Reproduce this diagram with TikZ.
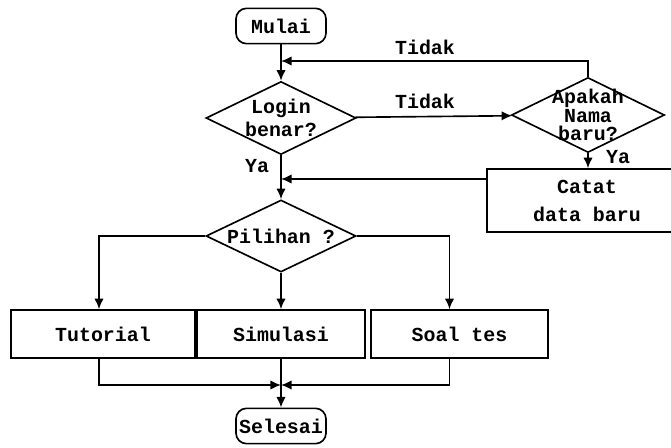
\documentclass[tikz,border=0pt]{standalone}
\usepackage{fontspec}
\setmonofont{Liberation Mono}
\usetikzlibrary{arrows.meta,shapes.geometric}
\tikzset{
    txt/.style={font=\ttfamily\bfseries\fontsize{17}{19}\selectfont},
    base/.style={txt, draw, line width=1.4pt, align=center},
    term/.style={base, rounded corners=9pt, minimum width=2.7cm, minimum height=1.06cm, inner sep=0pt},
    proc/.style={base, rectangle, minimum height=1.44cm, inner sep=0pt},
    decision/.style={base, diamond, inner sep=0pt},
    flow/.style={line width=1.4pt, -{Latex[length=9pt,width=8pt]}},
    link/.style={line width=1.4pt}
}

\begin{document}
\begin{tikzpicture}[x=0.03cm,y=-0.03cm]
\useasboundingbox (0,0) rectangle (671,447);
\clip (0,0) rectangle (671,447);
% terminals
\node[term] (mul) at (281,26) {Mulai};
\node[term, minimum width=2.7cm] (sel) at (281,426) {Selesai};
% decisions
\node[decision, minimum width=4.5cm, minimum height=2.19cm,
      label={[txt,align=center]center:Login\\benar?}] (log) at (281,118) {};
\node[decision, minimum width=4.59cm, minimum height=2.25cm,
      label={[txt,align=center,font=\ttfamily\bfseries\fontsize{17}{16}\selectfont]center:Apakah\\Nama\\baru?}] (apa) at (588,115) {};
\node[decision, minimum width=4.5cm, minimum height=2.16cm,
      label={[txt]center:Pilihan ?}] (pil) at (281,236) {};
% processes
\node[proc, minimum width=6cm, minimum height=1.89cm,
      font=\ttfamily\bfseries\fontsize{17}{24}\selectfont] (cat) at (587,200.5) {Catat\\data baru};
\node[proc, minimum width=5.52cm] (tut) at (103,334) {Tutorial};
\node[proc, minimum width=5.04cm] (sim) at (281,334) {Simulasi};
\node[proc, minimum width=5.31cm] (sol) at (459.5,334) {Soal tes};
% joints
\coordinate (t1) at (281,61);
\coordinate (t2) at (281,179);
\coordinate (j) at (281,385);
% labels
\node[txt] (tdk1) at (425,47) {Tidak};
\node[txt] (tdk2) at (425,101) {Tidak};
\node[txt] (ya1) at (257,166) {Ya};
\node[txt] (ya2) at (618,157) {Ya};
% connectors
\draw[flow] (mul) -- (log);
\draw[flow] (log) -- (apa);
\draw[flow] (apa.north) |- (t1);
\draw[flow] (apa.south) -- (apa.south |- cat.north);
\draw[flow] (t2 -| cat.west) -- (t2);
\draw[flow] (log) -- (pil);
\draw[flow] (pil.west) -| ([xshift=-0.12cm]tut.north);
\draw[flow] (pil) -- (sim);
\draw[flow] (pil.east) -| ([xshift=-0.3cm]sol.north);
\draw[flow] ([xshift=-0.12cm]tut.south) |- (j);
\draw[flow] ([xshift=-0.3cm]sol.south) |- (j);
\draw[flow] (sim) -- (sel);
\end{tikzpicture}
\end{document}
